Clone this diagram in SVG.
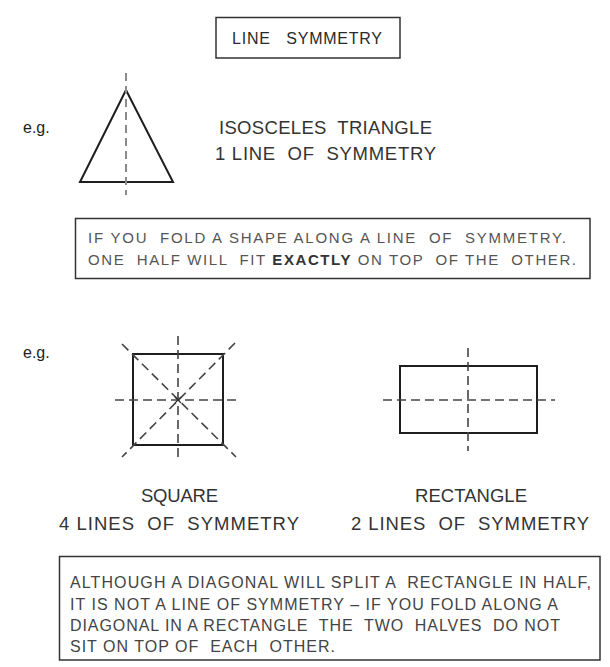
<svg xmlns="http://www.w3.org/2000/svg" width="610" height="667" viewBox="0 0 610 667">
<style>
  .bg { fill: #ffffff; }
  .box { fill: none; stroke: #333333; stroke-width: 1.5; }
  .shape { fill: none; stroke: #1e1e1e; stroke-width: 2; stroke-linejoin: miter; }
  .sym { fill: none; stroke: #444444; stroke-width: 1.6; stroke-dasharray: 9 5; }
  .symlight { fill: none; stroke: #8a8a8a; stroke-width: 2; stroke-dasharray: 8 5; }
  .t { font-family: "Liberation Sans", Arial, sans-serif; fill: #2a2a2a; white-space: pre; }
  .title { font-size: 16px; }
  .label { font-size: 18.5px; fill: #333333; }
  .note { font-size: 15px; fill: #555555; }
  .note2 { font-size: 16px; fill: #444444; }
  .eg { font-size: 16px; fill: #222222; }
  .bold { font-weight: bold; fill: #333333; }
</style>
<rect class="bg" x="0" y="0" width="610" height="667"/>

<g id="title">
  <rect class="box" x="216" y="17.5" width="184" height="40.5"/>
  <text class="t title" xml:space="preserve" x="232" y="44" textLength="150" lengthAdjust="spacing">LINE   SYMMETRY</text>
</g>

<g id="example1-label">
  <text class="t eg" x="23" y="133">e.g.</text>
</g>

<g id="triangle">
  <polygon class="shape" points="126,90 80,182 173,182"/>
  <line class="symlight" x1="126" y1="73" x2="126" y2="195"/>
</g>

<g id="triangle-label">
  <text class="t label" xml:space="preserve" x="219" y="134" textLength="213" lengthAdjust="spacing">ISOSCELES  TRIANGLE</text>
  <text class="t label" xml:space="preserve" x="215" y="160" textLength="221" lengthAdjust="spacing">1 LINE  OF  SYMMETRY</text>
</g>

<g id="note1">
  <rect class="box" x="75.5" y="218.5" width="514.5" height="60"/>
  <text class="t note" xml:space="preserve" x="88" y="243" textLength="478" lengthAdjust="spacing">IF YOU  FOLD A SHAPE ALONG A LINE  OF  SYMMETRY.</text>
  <text class="t note" xml:space="preserve" x="88" y="265" textLength="488" lengthAdjust="spacing">ONE  HALF WILL  FIT <tspan class="bold">EXACTLY</tspan> ON TOP  OF THE  OTHER.</text>
</g>

<g id="example2-label">
  <text class="t eg" x="23" y="358">e.g.</text>
</g>

<g id="square">
  <rect class="shape" x="133" y="354" width="90" height="91"/>
  <line class="sym" x1="178" y1="336" x2="178" y2="458"/>
  <line class="sym" x1="115" y1="400" x2="237" y2="400"/>
  <line class="sym" x1="122" y1="344" x2="236" y2="457"/>
  <line class="sym" x1="235" y1="343" x2="122" y2="457"/>
  <path d="M175,397 L181,403 M181,397 L175,403" stroke="#333333" stroke-width="1.2" fill="none"/>
</g>

<g id="rectangle">
  <rect class="shape" x="400" y="366" width="137" height="67"/>
  <line class="sym" x1="468" y1="348" x2="468" y2="451"/>
  <line class="sym" x1="383" y1="400" x2="555" y2="400"/>
</g>

<g id="square-label">
  <text class="t label" x="141" y="502" textLength="77" lengthAdjust="spacing">SQUARE</text>
  <text class="t label" xml:space="preserve" x="59" y="530" textLength="240" lengthAdjust="spacing">4 LINES  OF  SYMMETRY</text>
</g>

<g id="rectangle-label">
  <text class="t label" x="415" y="502" textLength="112" lengthAdjust="spacing">RECTANGLE</text>
  <text class="t label" xml:space="preserve" x="351" y="530" textLength="238" lengthAdjust="spacing">2 LINES  OF  SYMMETRY</text>
</g>

<g id="note2">
  <rect class="box" x="59.5" y="556.5" width="540.5" height="103.5"/>
  <text class="t note2" xml:space="preserve" x="70" y="588" textLength="521" lengthAdjust="spacing">ALTHOUGH A DIAGONAL WILL SPLIT A  RECTANGLE IN HALF,</text>
  <text class="t note2" xml:space="preserve" x="70" y="610" textLength="488" lengthAdjust="spacing">IT IS NOT A LINE OF SYMMETRY – IF YOU FOLD ALONG A</text>
  <text class="t note2" xml:space="preserve" x="70" y="631" textLength="490" lengthAdjust="spacing">DIAGONAL IN A RECTANGLE  THE  TWO  HALVES  DO NOT</text>
  <text class="t note2" xml:space="preserve" x="70" y="652" textLength="265" lengthAdjust="spacing">SIT ON TOP OF  EACH  OTHER.</text>
</g>
</svg>
